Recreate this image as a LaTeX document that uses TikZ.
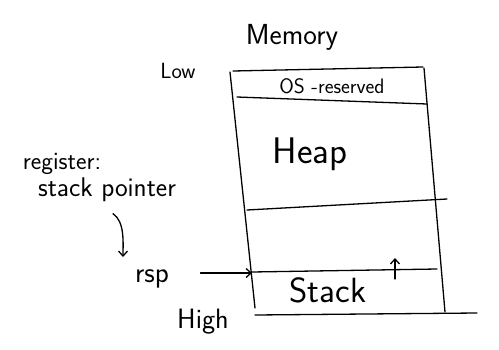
\documentclass[tikz,border=0pt]{standalone}
\usepackage{tikz}
\usetikzlibrary{arrows.meta,positioning}

\begin{document}
\begin{tikzpicture}[>={Straight Barb[length=5pt,width=9pt]},x=1pt,y=-1pt,line width=1.3pt,line cap=round,
  hand/.style={font=\sffamily\fontsize{#1}{#1}\selectfont,inner sep=1pt}]
\useasboundingbox (0,0) rectangle (499,349);
% memory column
\draw (230,72) -- (255,308);
\draw (424,68) -- (445,312);
\draw (233,71) -- (423,67);
\draw (237,97) -- (427,104);
\draw (247,210) -- (447,199);
\draw (252,272) -- (437,269);
\draw (255,315) -- (477,313);
\node[hand=29] (mem) at (292,37) {Memory};
\node[hand=22] (low) at (178,71) {Low};
\node[hand=21] (os) at (332,86) {OS -reserved};
\node[hand=37] (heap) at (310,154) {Heap};
\node[hand=35] (stk) at (328,290) {Stack};
\node[hand=28] (high) at (203,322) {High};
% register label
\node[hand=25] (reg) at (62,164) {register:};
\node[hand=27] (sp) at (107,190) {stack pointer};
\node[hand=29] (rsp) at (152,279) {rsp};
\coordinate (sptop) at (252,273);
\coordinate (grow0) at (395,279);
\coordinate (grow1) at (395,258);
\draw[->] (sp.south) ++(6,10) .. controls +(12,8) and +(0,-14) .. (123,257);
\draw[->] ([xshift=30pt]rsp.east |- sptop) -- (sptop);
\draw[->] (grow0) -- (grow1);
\end{tikzpicture}
\end{document}
